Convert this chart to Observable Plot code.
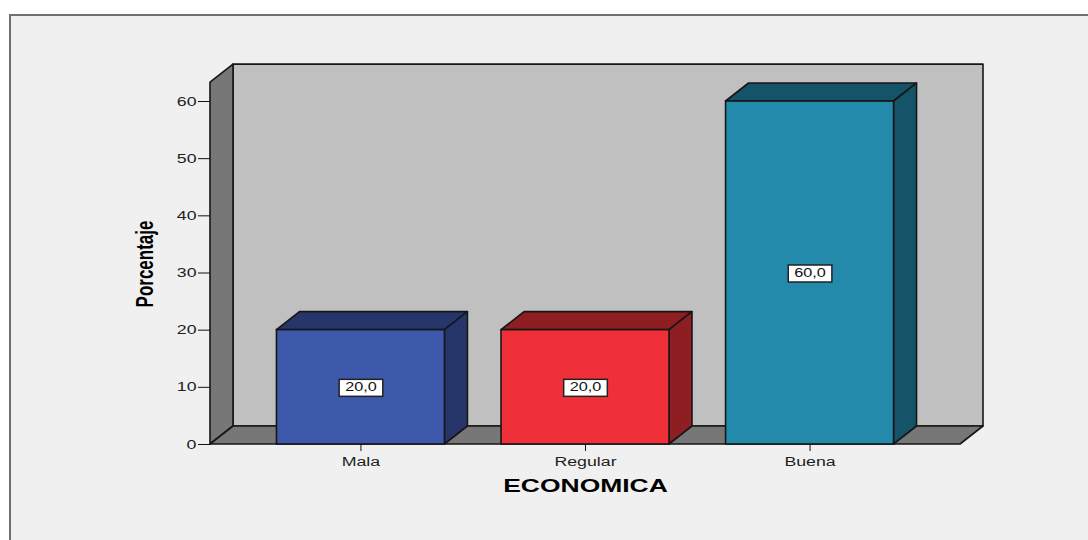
<!DOCTYPE html>
<html><head><meta charset="utf-8">
<script src="https://cdn.jsdelivr.net/npm/d3@7"></script>
<script src="https://cdn.jsdelivr.net/npm/@observablehq/plot@0.6"></script>
<style>
html,body{margin:0;padding:0;background:#fff;}
#wrap{position:relative;width:1088px;height:540px;overflow:hidden;}
#frame{position:absolute;left:9px;top:14px;right:0;bottom:0;border-top:2px solid #707070;border-left:2px solid #707070;background:#f0f0f0;}
#chart{position:absolute;left:0;top:0;}
</style></head>
<body><div id="wrap"><div id="frame"></div><div id="chart"></div></div>
<script>
// ---- data ----
const categories = ["Mala", "Regular", "Buena"];
const percentages = [20, 20, 60];
const yTicks = [0, 10, 20, 30, 40, 50, 60];
const frontColors = ["#3e58ac", "#ef3039", "#238aab"];
const darkColors = ["#26366a", "#8e1e22", "#155468"];
const xLabel = "ECONOMICA";
const yLabel = "Porcentaje";

const data = categories.map((c, i) => ({category: c, value: percentages[i], front: frontColors[i], dark: darkColors[i]}));

// ---- 3D styling ----
const DEPTH_X = 23, DEPTH_Y = -18;
const WALL_TOP = 63.3;
const EDGE = "#161616";

const poly = pts => "M" + pts.map(p => p.join(",")).join("L") + "Z";

function scene(index, scales, values, dimensions) {
  const {x, y} = scales;
  const {width, marginLeft, marginRight} = dimensions;
  const x0 = marginLeft, x1 = width - marginRight;
  const yb = y(0), yt = y(WALL_TOP);
  const dx = DEPTH_X, dy = DEPTH_Y;
  const g = d3.create("svg:g").attr("stroke", EDGE).attr("stroke-width", 1.6).attr("stroke-linejoin", "round");
  g.append("path").attr("fill", "#c0c0c0").attr("d", poly([[x0+dx, yt+dy], [x1+dx, yt+dy], [x1+dx, yb+dy], [x0+dx, yb+dy]]));
  g.append("path").attr("fill", "#777777").attr("d", poly([[x0, yb], [x0, yt], [x0+dx, yt+dy], [x0+dx, yb+dy]]));
  g.append("path").attr("fill", "#777777").attr("d", poly([[x0, yb], [x0+dx, yb+dy], [x1+dx, yb+dy], [x1, yb]]));
  const bw = x.bandwidth();
  for (const d of data) {
    const bx0 = x(d.category), bx1 = bx0 + bw, yv = y(d.value);
    g.append("path").attr("fill", d.dark).attr("d", poly([[bx0, yv], [bx0+dx, yv+dy], [bx1+dx, yv+dy], [bx1, yv]]));
    g.append("path").attr("fill", d.dark).attr("d", poly([[bx1, yv], [bx1+dx, yv+dy], [bx1+dx, yb+dy], [bx1, yb]]));
  }
  return g.node();
}

const chart = Plot.plot({
  width: 1088,
  height: 540,
  marginLeft: 210,
  marginRight: 128,
  marginTop: 101,
  marginBottom: 96,
  style: {background: "transparent", fontFamily: "'Liberation Sans', Arial, sans-serif", fontSize: "12.5px", color: "#1e1e1e", overflow: "visible"},
  x: {domain: categories, paddingInner: 0.252, paddingOuter: 0.296, round: false},
  y: {domain: [0, 60]},
  color: {type: "identity"},
  marks: [
    scene,
    Plot.barY(data, {x: "category", y: "value", fill: "front", stroke: EDGE, strokeWidth: 1.6}),
    Plot.text(data, {x: "category", y: d => d.value / 2, text: d => d.value.toFixed(1).replace(".", ","), fill: "#111", fontSize: 12.5, ariaDescription: "value-labels"}),
    Plot.axisY({ticks: yTicks, tickSize: 12, tickPadding: 2, tickFormat: d => String(d), label: null, stroke: "#111"}),
    Plot.axisX({tickSize: 7, tickPadding: 6, label: null, stroke: "#111"}),
    Plot.text([xLabel], {text: d => d, frameAnchor: "bottom", dy: 47, fontWeight: "bold", fontSize: 18, fill: "#000", ariaDescription: "x-label"}),
    Plot.text([yLabel], {text: d => d, frameAnchor: "left", textAnchor: "middle", dx: -65, dy: -9, rotate: -90, fontWeight: "bold", fontSize: 17, fill: "#000", ariaDescription: "y-label"})
  ]
});

document.getElementById("chart").appendChild(chart);

// SPSS-like stretched glyphs: wide horizontal text, tall rotated text; boxed value labels
const svg = d3.select(chart);
svg.selectAll("text").each(function() {
  const grp = this.closest("g[aria-description]");
  const lab = grp ? grp.getAttribute("aria-description") : "";
  if (lab === "y-label") {
    const t = this.getAttribute("transform") || "";
    this.setAttribute("transform", t + " scale(1,1.45)");
    return;
  }
  const factor = lab === "x-label" ? 1.47 : lab === "value-labels" ? 1.3 : 1.42;
  const len = this.getComputedTextLength();
  this.setAttribute("textLength", (len * factor).toFixed(1));
  this.setAttribute("lengthAdjust", "spacingAndGlyphs");
});
svg.selectAll("g[aria-description='value-labels'] text").each(function() {
  const b = this.getBBox();
  const padX = 6, padY = 2;
  const r = document.createElementNS("http://www.w3.org/2000/svg", "rect");
  r.setAttribute("x", b.x - padX);
  r.setAttribute("y", b.y - padY + 1);
  r.setAttribute("width", b.width + 2 * padX);
  r.setAttribute("height", b.height + 2 * padY - 1);
  r.setAttribute("fill", "#fff");
  r.setAttribute("stroke", "#222");
  r.setAttribute("stroke-width", "1.5");
  const t = this.getAttribute("transform");
  if (t) r.setAttribute("transform", t);
  this.parentNode.insertBefore(r, this);
});
</script>
</body></html>
